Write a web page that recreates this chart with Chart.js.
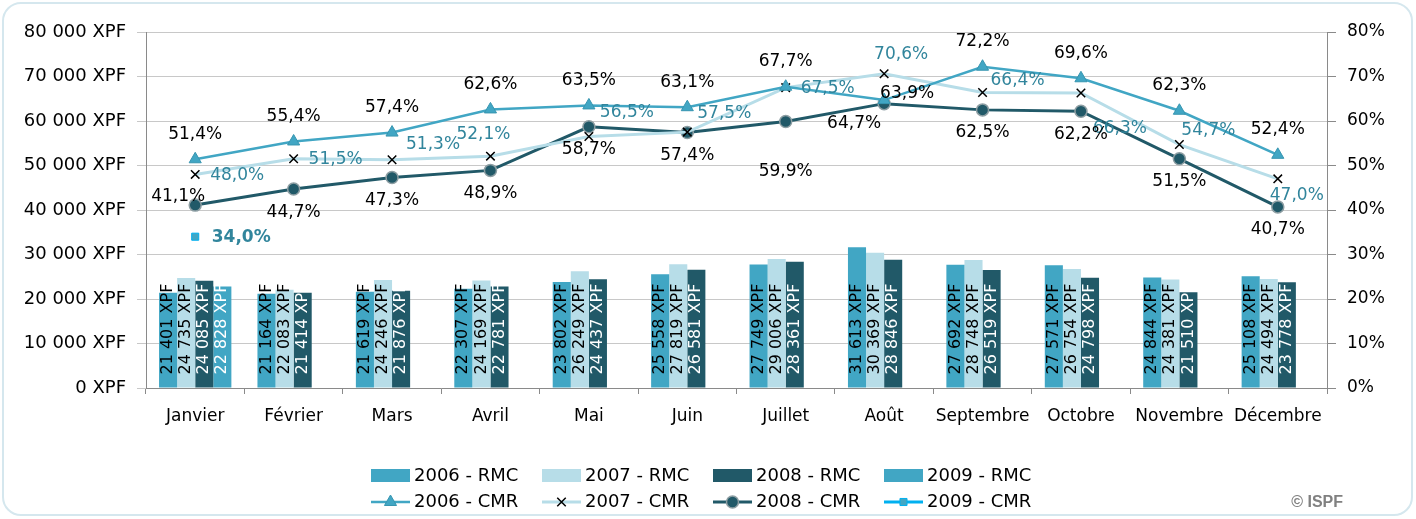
<!DOCTYPE html>
<html>
<head>
<meta charset="utf-8">
<title>RMC / CMR</title>
<script src="https://cdn.jsdelivr.net/npm/chart.js@4.4.1/dist/chart.umd.min.js"></script>
<style>
  body { margin: 0; background: #fff; }
  #wrap { width: 1416px; height: 519px; }
</style>
</head>
<body>
<div id="wrap"><canvas id="ispfChart" width="1416" height="519"></canvas></div>
<script>
// data
const months = ["Janvier", "Février", "Mars", "Avril", "Mai", "Juin", "Juillet", "Août", "Septembre", "Octobre", "Novembre", "Décembre"];

const rmc2006 = [21401, 21164, 21619, 22307, 23802, 25558, 27749, 31613, 27692, 27571, 24844, 25108];
const rmc2007 = [24735, 22083, 24246, 24169, 26249, 27819, 29006, 30369, 28748, 26754, 24381, 24494];
const rmc2008 = [24085, 21414, 21876, 22781, 24437, 26581, 28361, 28846, 26519, 24798, 21510, 23778];
const rmc2009 = [22828, null, null, null, null, null, null, null, null, null, null, null];

const cmr2006 = [51.4, 55.4, 57.4, 62.6, 63.5, 63.1, 67.7, 64.7, 72.2, 69.6, 62.3, 52.4];
const cmr2007 = [48.0, 51.5, 51.3, 52.1, 56.5, 57.5, 67.5, 70.6, 66.4, 66.3, 54.7, 47.0];
const cmr2008 = [41.1, 44.7, 47.3, 48.9, 58.7, 57.4, 59.9, 63.9, 62.5, 62.2, 51.5, 40.7];
const cmr2009 = [34.0, null, null, null, null, null, null, null, null, null, null, null];

const xpfTicks = [0, 10000, 20000, 30000, 40000, 50000, 60000, 70000, 80000];
const pctTicks = [0, 10, 20, 30, 40, 50, 60, 70, 80];

const AQUA = "#41a6c4";
const PALE = "#b7dde8";
const DARK = "#215968";
const FONT = "'DejaVu Sans', Verdana, sans-serif";

function fmtXpf(v) {
    return String(v).replace(/\B(?=(\d{3})+(?!\d))/g, " ") + " XPF";
}
function fmtPct(v) {
    return v.toFixed(1).replace(".", ",") + "%";
}

// nudges for the percent labels, px from the marker (the Excel labels were moved by hand)
const nudges = [
    null, null, null, null,
    { def: [0, -25], 7: [-30, 23] },
    { def: [42, 1], 2: [41, -15], 3: [-7, -22], 4: [38, -24], 5: [37, -19], 7: [17, -19], 8: [35, -12], 9: [39, 36], 10: [29, -14], 11: [19, 17] },
    { def: [0, 23], 0: [-17, -9], 6: [0, 50], 7: [23, -10] },
    { def: [46, 1] }
];

const valueLabels = {
    id: "valueLabels",
    afterDatasetsDraw(chart) {
        const ctx = chart.ctx;
        chart.data.datasets.forEach((ds, di) => {
            const meta = chart.getDatasetMeta(di);
            meta.data.forEach((el, i) => {
                const v = ds.data[i];
                if (v == null) return;
                ctx.save();
                if (ds.type === "bar") {
                    ctx.translate(el.x, el.base - 13);
                    ctx.rotate(-Math.PI / 2);
                    ctx.font = "16px " + FONT;
                    ctx.fillStyle = ds.labelColor;
                    ctx.textAlign = "left";
                    ctx.textBaseline = "middle";
                    ctx.fillText(fmtXpf(v), 0, 0);
                } else {
                    const n = nudges[di];
                    const off = n[i] || n.def;
                    ctx.font = (ds.labelBold ? "bold " : "") + "17px " + FONT;
                    ctx.fillStyle = ds.labelColor;
                    ctx.textAlign = "center";
                    ctx.textBaseline = "middle";
                    ctx.fillText(fmtPct(v), el.x + off[0], el.y + off[1]);
                }
                ctx.restore();
            });
        });
    }
};

// two-row legend like the Excel one, drawn under the axis
const gridLegend = {
    id: "gridLegend",
    afterDraw(chart) {
        const ctx = chart.ctx;
        const rows = [476, 502];
        const x0 = 371, step = 171;
        chart.data.datasets.forEach((ds, di) => {
            const col = di % 4;
            const y = rows[Math.floor(di / 4)];
            const x = x0 + col * step;
            ctx.save();
            if (ds.type === "bar") {
                ctx.fillStyle = ds.backgroundColor;
                ctx.fillRect(x, y - 7, 39, 13);
            } else {
                ctx.strokeStyle = ds.borderColor;
                ctx.lineWidth = ds.borderWidth;
                ctx.beginPath();
                ctx.moveTo(x, y);
                ctx.lineTo(x + 39, y);
                ctx.stroke();
                ctx.fillStyle = ds.pointBackgroundColor;
                ctx.strokeStyle = ds.pointBorderColor;
                ctx.lineWidth = ds.pointBorderWidth;
                Chart.helpers.drawPoint(ctx, {
                    pointStyle: ds.pointStyle,
                    radius: ds.pointRadius,
                    rotation: 0,
                    borderWidth: ds.pointBorderWidth
                }, x + 19.5, y);
            }
            ctx.fillStyle = "#000";
            ctx.font = "18px " + FONT;
            ctx.textAlign = "left";
            ctx.textBaseline = "middle";
            ctx.fillText(ds.label, x + 43, y);
            ctx.restore();
        });

        ctx.save();
        ctx.fillStyle = "#808080";
        ctx.font = "bold 16px 'Liberation Sans', Arial, sans-serif";
        ctx.textAlign = "right";
        ctx.textBaseline = "middle";
        ctx.fillText("© ISPF", 1343, 503);
        ctx.restore();
    }
};

const frame = {
    id: "frame",
    beforeDraw(chart) {
        const ctx = chart.ctx;
        ctx.save();
        ctx.strokeStyle = "#d5e7ee";
        ctx.lineWidth = 2;
        ctx.beginPath();
        ctx.roundRect(3, 3, 1409, 512, 18);
        ctx.stroke();
        ctx.restore();
    }
};

const ctx = document.getElementById("ispfChart").getContext("2d");

new Chart(ctx, {
    type: "bar",
    data: {
        labels: months,
        datasets: [
            { type: "bar", label: "2006 - RMC", data: rmc2006, backgroundColor: AQUA, labelColor: "#000", yAxisID: "y", order: 2 },
            { type: "bar", label: "2007 - RMC", data: rmc2007, backgroundColor: PALE, labelColor: "#000", yAxisID: "y", order: 2 },
            { type: "bar", label: "2008 - RMC", data: rmc2008, backgroundColor: DARK, labelColor: "#fff", yAxisID: "y", order: 2 },
            { type: "bar", label: "2009 - RMC", data: rmc2009, backgroundColor: AQUA, labelColor: "#fff", yAxisID: "y", order: 2 },
            {
                type: "line", label: "2006 - CMR", data: cmr2006, yAxisID: "y1", order: 1,
                borderColor: AQUA, borderWidth: 2.5, labelColor: "#000",
                pointStyle: "triangle", pointRadius: 7, pointBackgroundColor: AQUA,
                pointBorderColor: "#3795b0", pointBorderWidth: 1
            },
            {
                type: "line", label: "2007 - CMR", data: cmr2007, yAxisID: "y1", order: 1,
                borderColor: PALE, borderWidth: 3, labelColor: "#31859c",
                pointStyle: "crossRot", pointRadius: 6, pointBackgroundColor: "#000",
                pointBorderColor: "#000", pointBorderWidth: 1.5
            },
            {
                type: "line", label: "2008 - CMR", data: cmr2008, yAxisID: "y1", order: 1,
                borderColor: DARK, borderWidth: 3, labelColor: "#000",
                pointStyle: "circle", pointRadius: 6, pointBackgroundColor: DARK,
                pointBorderColor: "#8d9ea3", pointBorderWidth: 1.5
            },
            {
                type: "line", label: "2009 - CMR", data: cmr2009, yAxisID: "y1", order: 1,
                borderColor: "#00b0f0", borderWidth: 3, labelColor: "#31859c", labelBold: true,
                pointStyle: "rect", pointRadius: 5, pointBackgroundColor: AQUA,
                pointBorderColor: "#00b0f0", pointBorderWidth: 1
            }
        ]
    },
    options: {
        responsive: false,
        animation: false,
        devicePixelRatio: 1,
        layout: { padding: { top: 32, bottom: 91, left: 0, right: 0 } },
        datasets: {
            bar: { barPercentage: 1, categoryPercentage: 0.735 }
        },
        plugins: {
            legend: { display: false },
            tooltip: { enabled: false }
        },
        scales: {
            x: {
                offset: true,
                grid: { drawOnChartArea: false, color: "#8a8a8a", tickLength: 6, offset: true },
                border: { color: "#8a8a8a" },
                ticks: { color: "#000", font: { size: 17, family: FONT }, padding: 12, maxRotation: 0, minRotation: 0, autoSkip: false },
                afterFit(scale) { scale.height = 40; }
            },
            y: {
                position: "left",
                min: 0,
                max: 80000,
                afterBuildTicks(scale) { scale.ticks = xpfTicks.map(v => ({ value: v })); },
                grid: { color: "#c8c8c8", tickLength: 9 },
                border: { color: "#8a8a8a" },
                ticks: { color: "#000", font: { size: 18, family: FONT }, padding: 11, callback: v => fmtXpf(v) },
                afterFit(scale) { scale.width = 146; }
            },
            y1: {
                position: "right",
                min: 0,
                max: 80,
                afterBuildTicks(scale) { scale.ticks = pctTicks.map(v => ({ value: v })); },
                grid: { drawOnChartArea: false, color: "#8a8a8a", tickLength: 9 },
                border: { color: "#8a8a8a" },
                ticks: { color: "#000", font: { size: 17, family: FONT }, padding: 11, callback: v => v + "%" },
                afterFit(scale) { scale.width = 89; }
            }
        }
    },
    plugins: [frame, valueLabels, gridLegend]
});
</script>
</body>
</html>
